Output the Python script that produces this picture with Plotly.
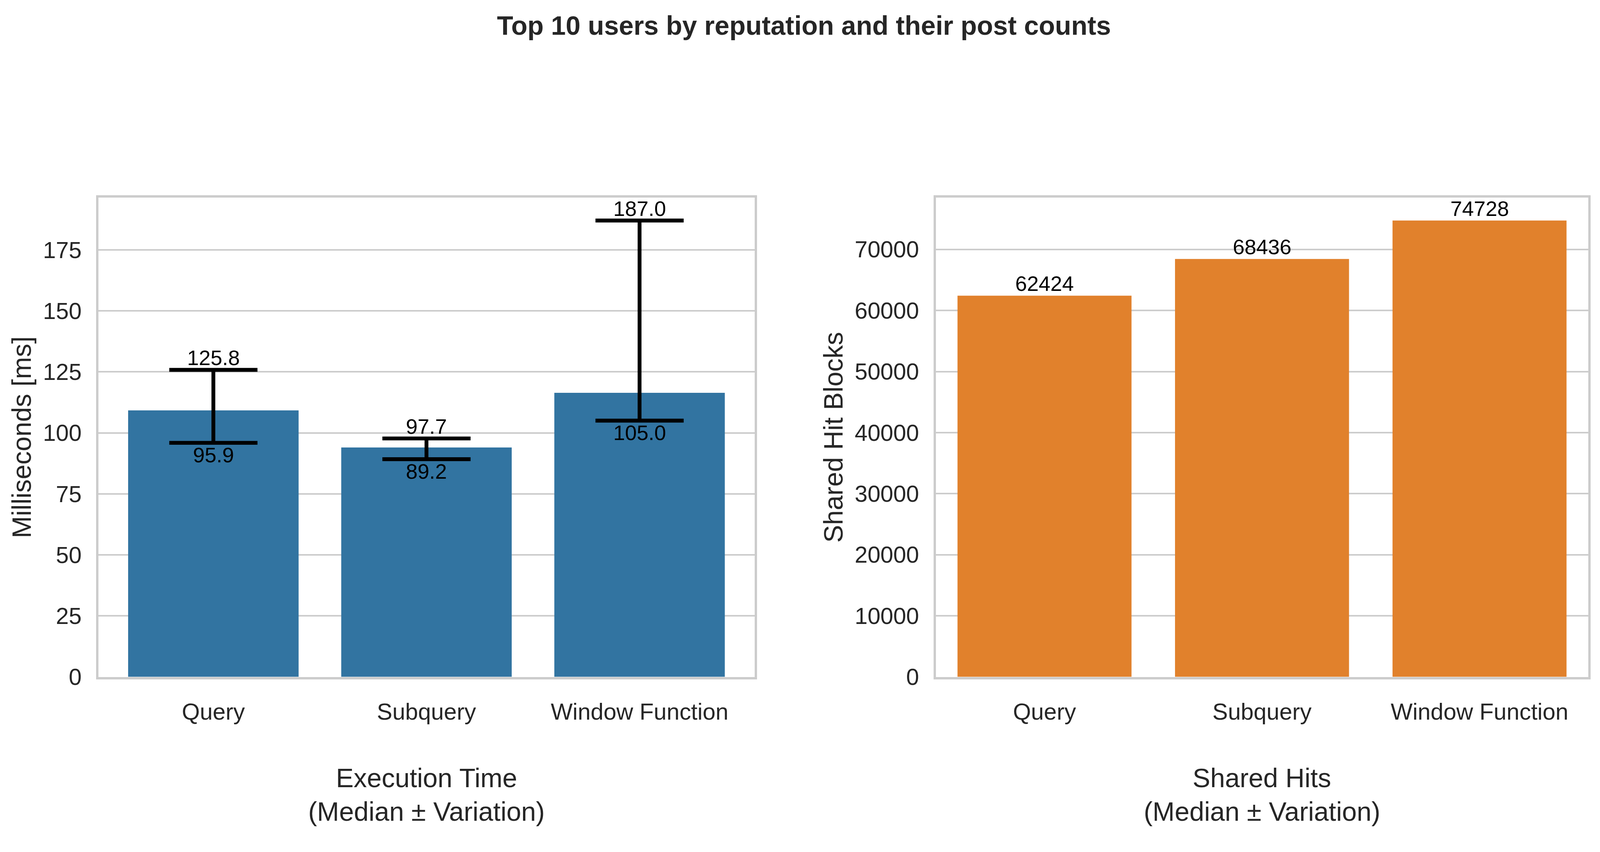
import plotly.graph_objects as go

# the page is shot with a device scale of about 1.22, so px sizes are divided by it
S = 1 / 1.2224

methods = ['Query', 'Subquery', 'Window Function']

# execution time (ms)
time_median = [109.2, 94.0, 116.4]
time_upper = [125.8, 97.7, 187.0]
time_lower = [95.9, 89.2, 105.0]

# shared hit blocks
hits = [62424, 68436, 74728]

time_ticks = [0, 25, 50, 75, 100, 125, 150, 175]
hit_ticks = [0, 10000, 20000, 30000, 40000, 50000, 60000, 70000]

BLUE = '#3274a1'
ORANGE = '#e1812c'
GRID = '#cccccc'
TXT = '#262626'
FONT = 'Liberation Sans, Arial, sans-serif'

W, H = 5007, 2182  # reference size, used for domain fractions

fig = go.Figure()

fig.add_trace(go.Bar(
    x=methods, y=time_median, width=0.8,
    marker=dict(color=BLUE, line=dict(width=0)),
    error_y=dict(
        type='data', symmetric=False,
        array=[u - m for u, m in zip(time_upper, time_median)],
        arrayminus=[m - l for m, l in zip(time_median, time_lower)],
        color='black', thickness=12 * S, width=138 * S,
    ),
    xaxis='x', yaxis='y', showlegend=False,
))

fig.add_trace(go.Bar(
    x=methods, y=hits, width=0.8,
    marker=dict(color=ORANGE, line=dict(width=0)),
    xaxis='x2', yaxis='y2', showlegend=False,
))

lab_font = dict(size=66 * S, color='black', family=FONT)
annos = []
for m, u, l in zip(methods, time_upper, time_lower):
    annos.append(dict(x=m, y=u, xref='x', yref='y', text=f'{u:.1f}',
                      showarrow=False, yanchor='bottom', borderpad=0, font=lab_font))
    annos.append(dict(x=m, y=l, xref='x', yref='y', text=f'{l:.1f}',
                      showarrow=False, yanchor='top', borderpad=0, font=lab_font))
for m, v in zip(methods, hits):
    annos.append(dict(x=m, y=v, xref='x2', yref='y2', text=str(v),
                      showarrow=False, yanchor='bottom', borderpad=0, font=lab_font))

# x axis titles as two lines each (matplotlib's tighter line spacing)
ttl_font = dict(size=83 * S, color=TXT, family=FONT)
x_titles = [('Execution Time', '(Median ± Variation)', (299 + 2361) / 2 / W),
            ('Shared Hits', '(Median ± Variation)', (2930 + 4980) / 2 / W)]
for l1, l2, xc in x_titles:
    annos.append(dict(x=xc, y=0.069, xref='paper', yref='paper', text=l1,
                      showarrow=False, xanchor='center', yanchor='middle', font=ttl_font))
    annos.append(dict(x=xc, y=0.029, xref='paper', yref='paper', text=l2,
                      showarrow=False, xanchor='center', yanchor='middle', font=ttl_font))

axis_common = dict(
    showline=True, mirror=True, linecolor=GRID, linewidth=7 * S,
    tickfont=dict(size=72.5 * S, color=TXT, family=FONT),
    zeroline=False,
)

fig.update_layout(
    autosize=True,
    margin=dict(l=0, r=0, t=0, b=0),
    paper_bgcolor='white', plot_bgcolor='white',
    font=dict(family=FONT, color=TXT),
    title=dict(text='<b>Top 10 users by reputation and their post counts</b>',
               x=0.5025, xanchor='center', y=1 - 58 / H, yanchor='middle',
               font=dict(size=83 * S, color=TXT, family=FONT)),
    xaxis=dict(domain=[299 / W, 2361 / W], range=[-0.54, 2.54], showgrid=False,
               ticklabelstandoff=32, **axis_common),
    yaxis=dict(domain=[416 / H, 1672 / H], range=[0, 196.35],
               tickvals=time_ticks, showgrid=True, gridcolor=GRID, gridwidth=5 * S,
               ticklabelstandoff=round(31 * S),
               title=dict(text='Milliseconds [ms]', font=ttl_font, standoff=round(12 * S)),
               **axis_common),
    xaxis2=dict(domain=[2930 / W, 4980 / W], range=[-0.5, 2.5], showgrid=False,
                anchor='y2', ticklabelstandoff=32, **axis_common),
    yaxis2=dict(domain=[416 / H, 1672 / H], range=[0, 78464], anchor='x2',
                tickvals=hit_ticks, tickformat='d', showgrid=True,
                gridcolor=GRID, gridwidth=5 * S, ticklabelstandoff=round(31 * S),
                title=dict(text='Shared Hit Blocks', font=ttl_font, standoff=round(12 * S)),
                **axis_common),
    annotations=annos,
)

fig.write_html('out.html')
